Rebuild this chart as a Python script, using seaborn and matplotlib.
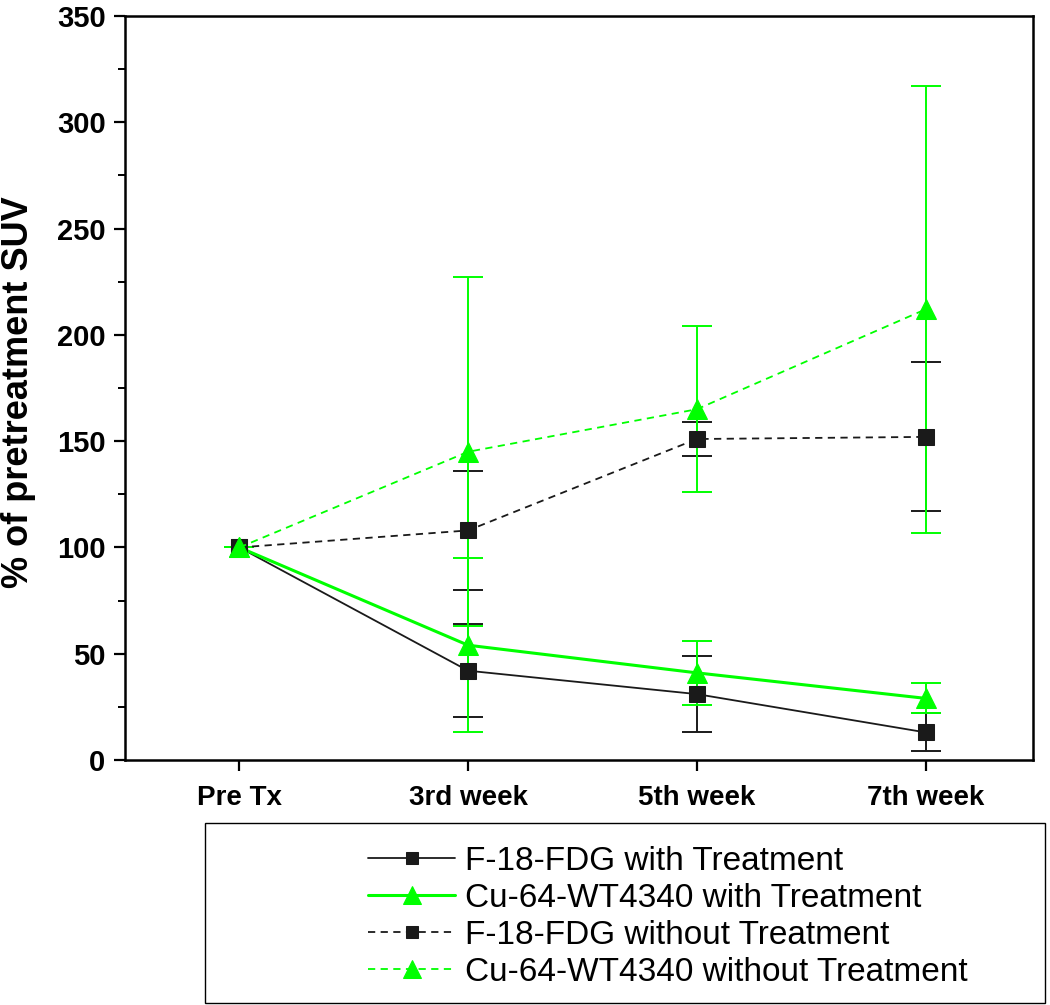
import matplotlib
matplotlib.use("Agg")
import matplotlib.pyplot as plt
import seaborn as sns
import pandas as pd
from matplotlib.patches import Rectangle
from matplotlib.ticker import MultipleLocator

timepoints = ["Pre Tx", "3rd week", "5th week", "7th week"]
fdg_treat = [100, 42, 31, 13]
fdg_treat_err = [0, 22, 18, 9]
cu_treat = [100, 54, 41, 29]
cu_treat_err = [0, 41, 15, 7]
fdg_notreat = [100, 108, 151, 152]
fdg_notreat_err = [0, 28, 8, 35]
cu_notreat = [100, 145, 165, 212]
cu_notreat_err = [0, 82, 39, 105]

sns.set_theme(style="white")
plt.rcParams['font.family'] = ['Liberation Sans', 'DejaVu Sans']
plt.rcParams['text.color'] = 'black'
plt.rcParams['axes.labelcolor'] = 'black'
plt.rcParams['xtick.color'] = 'black'
plt.rcParams['ytick.color'] = 'black'

fig = plt.figure(figsize=(10.5, 10.05), dpi=100)
ax = fig.add_axes([125/1050, 245/1005, 908/1050, 744/1005])

xpos = list(range(len(timepoints)))
green = "#00ff00"
dark = "#1a1a1a"

series = [
    ("F-18-FDG with Treatment", fdg_treat, fdg_treat_err, dark, "-", "s", 11, 1.3),
    ("Cu-64-WT4340 with Treatment", cu_treat, cu_treat_err, green, "-", "^", 15, 2.2),
    ("F-18-FDG without Treatment", fdg_notreat, fdg_notreat_err, dark, "--", "s", 11, 1.3),
    ("Cu-64-WT4340 without Treatment", cu_notreat, cu_notreat_err, green, "--", "^", 15, 1.3),
]

# error bars (black first, then green on top)
for i in [0, 2, 1, 3]:
    name, vals, errs, col, ls, mk, ms, lw = series[i]
    ax.errorbar(xpos, vals, yerr=errs, fmt="none", ecolor=col, elinewidth=1.4,
                capsize=11, capthick=1.4, zorder=2 + (1 if col == green else 0))

handles = []
for i in [0, 1, 2, 3]:
    name, vals, errs, col, ls, mk, ms, lw = series[i]
    df = pd.DataFrame({"x": xpos, "y": vals})
    sns.lineplot(data=df, x="x", y="y", ax=ax, color=col, linestyle=ls,
                 linewidth=lw, marker=mk, markersize=ms, markeredgecolor=col,
                 markerfacecolor=col, label=name, zorder=4)
    line = ax.get_lines()[-1]
    if ls == "--":
        line.set_dashes((4, 3))
    handles.append(line)

ax.set_xlim(-0.5, 3.47)
ax.set_ylim(0, 350)
ax.set_xticks(xpos)
ax.set_xticklabels(timepoints)
ax.yaxis.set_major_locator(MultipleLocator(50))
ax.yaxis.set_minor_locator(MultipleLocator(25))
ax.set_xlabel("")
ax.set_ylabel("% of pretreatment SUV", fontsize=26, fontweight="bold")
ax.yaxis.set_label_coords(-0.098, 0.495)

for s in ax.spines.values():
    s.set_linewidth(1.8)
    s.set_color("black")

ax.tick_params(axis="y", which="major", direction="out", length=8, width=1.6,
               left=True, right=False, labelsize=21, pad=6)
ax.tick_params(axis="y", which="minor", direction="out", length=5, width=1.4,
               left=True, right=False)
ax.tick_params(axis="x", which="major", direction="out", length=8, width=1.6,
               bottom=True, top=False, labelsize=20, pad=10)
for lab in ax.get_xticklabels() + ax.get_yticklabels():
    lab.set_fontweight("bold")

ax.get_legend().remove()

# legend frame
rect = Rectangle((205/1050, 2/1005), 840/1050, 180/1005, transform=fig.transFigure,
                 fill=False, edgecolor="black", linewidth=1.0)
fig.patches.append(rect)

leg = fig.legend(handles=handles, labels=[s[0] for s in series], loc="center",
                 bbox_to_anchor=(668/1050, 1 - 917/1005), frameon=False,
                 fontsize=24, handlelength=2.6, handletextpad=0.3,
                 labelspacing=0.18, markerscale=0.85)

fig.savefig("out.png", dpi=100)
